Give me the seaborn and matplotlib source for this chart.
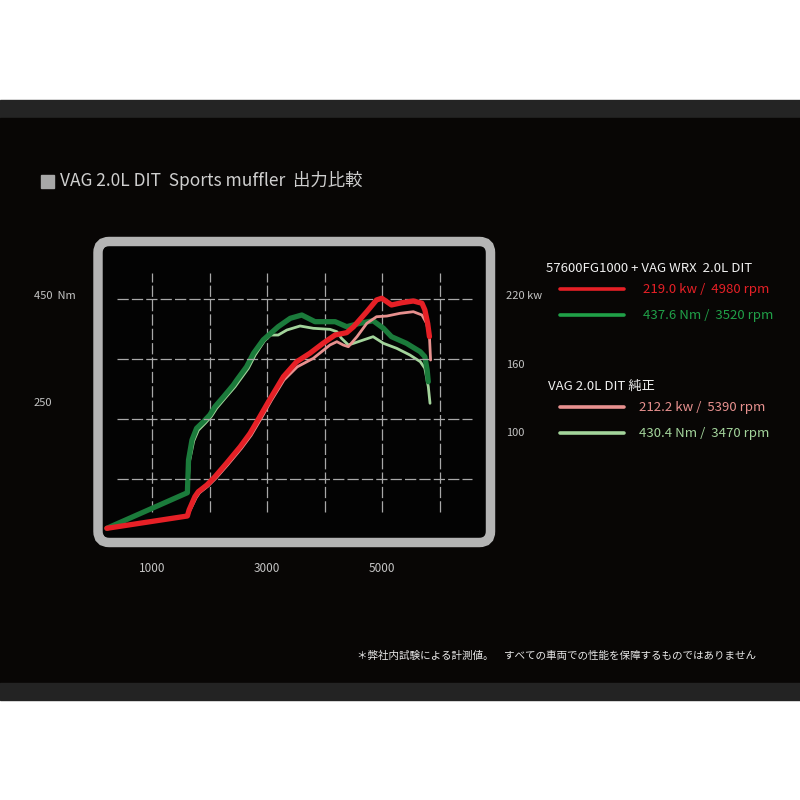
import matplotlib
matplotlib.use("Agg")
import matplotlib.pyplot as plt
import seaborn as sns
import pandas as pd
from matplotlib.patches import Rectangle, FancyBboxPatch
from matplotlib.lines import Line2D
from matplotlib import transforms

# ---------------- data ----------------
rpm_tuned_kw = [210, 1610, 1640, 1740, 1800, 1950, 2090, 2290, 2530, 2700, 2870, 3050, 3280, 3510,
                3740, 3970, 4180, 4380, 4500, 4730, 4900, 4990, 5160, 5340, 5540, 5690, 5740, 5790, 5820]
kw_tuned = [16.4, 27.2, 32.5, 44.1, 48.5, 54.4, 61.7, 73.4, 88.0, 99.7, 114.3, 130.0, 149.4, 162.5,
            169.9, 178.7, 186.0, 188.0, 193.2, 206.4, 216.7, 218.2, 212.3, 214.3, 215.8, 213.8, 208.0, 196.0, 184.5]

rpm_stock_kw = [210, 1610, 1650, 1760, 1820, 1970, 2110, 2310, 2550, 2720, 2890, 3070, 3290, 3520,
                3800, 4090, 4210, 4320, 4410, 4560, 4730, 4900, 5080, 5310, 5540, 5690, 5770, 5820, 5840]
kw_stock = [16.4, 27.2, 31.5, 43.0, 47.5, 53.5, 60.5, 72.0, 86.5, 98.0, 112.5, 128.5, 146.5, 158.0,
            165.5, 177.2, 180.1, 177.2, 175.7, 184.5, 196.2, 202.0, 202.6, 205.0, 206.4, 203.5, 196.2, 184.5, 164.0]

rpm_tuned_nm = [210, 1610, 1630, 1690, 1770, 1890, 2000, 2090, 2240, 2410, 2470, 2640, 2760, 2930,
                3190, 3400, 3600, 3830, 4180, 4380, 4610, 4840, 5020, 5160, 5420, 5660, 5740, 5780, 5800]
nm_tuned = [17.7, 83.8, 144.6, 181.8, 203.5, 215.8, 228.3, 243.7, 262.3, 284.0, 293.3, 318.0, 342.9, 368.0,
            392.4, 408.0, 414.1, 401.7, 401.7, 392.4, 398.7, 403.5, 389.4, 373.8, 361.5, 345.9, 336.6, 311.9, 290.1]

rpm_stock_nm = [210, 1610, 1650, 1720, 1800, 1920, 2030, 2120, 2270, 2440, 2500, 2670, 2790, 2950, 3060,
                3190, 3340, 3570, 3800, 4090, 4210, 4290, 4410, 4500, 4670, 4840, 5020, 5250, 5480, 5660,
                5740, 5800, 5830]
nm_stock = [17.7, 83.8, 144.0, 180.0, 200.0, 213.0, 226.0, 241.0, 260.0, 281.0, 290.0, 315.0, 340.0, 366.0, 376.9,
            376.9, 386.2, 393.7, 389.4, 387.5, 383.1, 370.8, 358.4, 361.5, 367.7, 373.8, 361.5, 352.2, 339.8, 327.4,
            315.1, 280.9, 250.0]

grid_rpm = [1000, 2000, 3000, 4000, 5000, 6000]
grid_kw = [217.3, 164.9, 112.3, 59.4]
xtick_labels = [1000, 3000, 5000]
kw_labels = [(220, "220 kw"), (160, "160"), (100, "100")]
nm_labels = [(450, "450  Nm"), (250, "250")]

legend_head_1 = "57600FG1000 + VAG WRX  2.0L DIT"
legend_head_2 = "VAG 2.0L DIT 純正"
legend_texts = ["219.0 kw /  4980 rpm", "437.6 Nm /  3520 rpm", "212.2 kw /  5390 rpm", "430.4 Nm /  3470 rpm"]
title = "VAG 2.0L DIT  Sports muffler  出力比較"
footnote = "＊弊社内試験による計測値。　すべての車両での性能を保障するものではありません"

# ---------------- style ----------------
C_RED = "#e62026"
C_PINK = "#e8918f"
C_GREEN = "#1b7b3b"
C_LGREEN = "#a3d49b"
C_LEG_GREEN = "#20a048"

sns.set_theme(style="dark")
plt.rcParams["font.family"] = ["Noto Sans CJK JP", "DejaVu Sans"]

fig = plt.figure(figsize=(8, 8), dpi=100)
fig.patch.set_facecolor("white")

def fy(px):
    return 1 - px / 800.0

# page bands
fig.patches.append(Rectangle((0, fy(118)), 1, 18 / 800, transform=fig.transFigure, color="#242424", zorder=-5))
fig.patches.append(Rectangle((0, fy(683)), 1, 565 / 800, transform=fig.transFigure, color="#080605", zorder=-5))
fig.patches.append(Rectangle((0, fy(700)), 1, 17 / 800, transform=fig.transFigure, color="#232323", zorder=-5))

# rounded frame
fig.patches.append(FancyBboxPatch((98 / 800, fy(542.5)), (490.5 - 98) / 800, (542.5 - 241.5) / 800,
                                  boxstyle="round,pad=0,rounding_size=0.014",
                                  transform=fig.transFigure, facecolor="#030303",
                                  edgecolor="#b4b4b4", linewidth=6.8, zorder=-4))

# axes mapping: x px 90..500, y px 230..550
ax = fig.add_axes([90 / 800, fy(550), 410 / 800, 320 / 800])
ax2 = ax.twinx()
for a in (ax, ax2):
    a.set_facecolor("none")
    a.patch.set_alpha(0)

df_tk = pd.DataFrame({"rpm": rpm_tuned_kw, "v": kw_tuned})
df_sk = pd.DataFrame({"rpm": rpm_stock_kw, "v": kw_stock})
df_tn = pd.DataFrame({"rpm": rpm_tuned_nm, "v": nm_tuned})
df_sn = pd.DataFrame({"rpm": rpm_stock_nm, "v": nm_stock})

# grid
dash = (0, (9, 2.5))
ax2.vlines(grid_rpm, (537.8 - 512) / 0.538, (537.8 - 273) / 0.538, colors="#a8a8a8",
           linewidth=0.9, linestyles=[dash], zorder=1)
ax.hlines(grid_kw, 381, 6555, colors="#a8a8a8", linewidth=0.9, linestyles=[dash], zorder=2)

sns.lineplot(data=df_sk, x="rpm", y="v", ax=ax, color=C_PINK, linewidth=2.0, sort=False, zorder=3)
sns.lineplot(data=df_tk, x="rpm", y="v", ax=ax, color=C_RED, linewidth=3.8, sort=False, zorder=5,
             solid_capstyle="round")
sns.lineplot(data=df_sn, x="rpm", y="v", ax=ax2, color=C_LGREEN, linewidth=2.0, sort=False, zorder=3)
sns.lineplot(data=df_tn, x="rpm", y="v", ax=ax2, color=C_GREEN, linewidth=3.8, sort=False, zorder=4,
             solid_capstyle="round")

ax.set_xlim((90 - 94.8) / 0.0575, (500 - 94.8) / 0.0575)
ax.set_ylim((547 - 550) / 1.14, (547 - 230) / 1.14)
ax2.set_ylim((537.8 - 550) / 0.538, (537.8 - 230) / 0.538)
ax.set_zorder(1)
ax2.set_zorder(0.5)
for a in (ax, ax2):
    for s in a.spines.values():
        s.set_visible(False)
    a.grid(False)
    a.set_yticks([])
    a.set_ylabel("")
    a.set_xlabel("")

# x tick labels
ax.set_xticks(xtick_labels)
ax.set_xticklabels([str(v) for v in xtick_labels])
ax.tick_params(axis="x", length=0, pad=9, colors="#c4c4c4", labelsize=8.5)

# y labels
tr_kw = transforms.blended_transform_factory(fig.transFigure, ax.transData)
for v, s in kw_labels:
    ax.text(506 / 800, v, s, transform=tr_kw, ha="left", va="center", color="#c4c4c4", fontsize=8)
tr_nm = transforms.blended_transform_factory(fig.transFigure, ax2.transData)
for v, s in nm_labels:
    ax2.text(34 / 800, v, s, transform=tr_nm, ha="left", va="center", color="#c4c4c4", fontsize=8)

# title
fig.patches.append(Rectangle((41 / 800, fy(188)), 13 / 800, 13 / 800, transform=fig.transFigure,
                             color="#a8a8a8", zorder=2))
fig.text(60 / 800, fy(181), title, color="#cfcfcf", fontsize=12.5, ha="left", va="center")

# legend
fig.text(546 / 800, fy(269), legend_head_1, color="#f0f0f0", fontsize=9.5, ha="left", va="center")
fig.text(548 / 800, fy(386), legend_head_2, color="#f0f0f0", fontsize=9.5, ha="left", va="center")
leg_y = [289, 315, 407, 433]
leg_c = [C_RED, C_LEG_GREEN, C_PINK, C_LGREEN]
leg_tx = [643, 643, 639, 639]
for y, c, tx, s in zip(leg_y, leg_c, leg_tx, legend_texts):
    fig.add_artist(Line2D([560 / 800, 624 / 800], [fy(y), fy(y)], transform=fig.transFigure,
                          color=c, linewidth=2.6))
    fig.text(tx / 800, fy(y), s, color=c, fontsize=9.5, ha="left", va="center")

# footnote
fig.text(756 / 800, fy(656), footnote, color="#e8e8e8", fontsize=7.6, ha="right", va="center")

fig.savefig("out.png", dpi=100, facecolor=fig.get_facecolor())
